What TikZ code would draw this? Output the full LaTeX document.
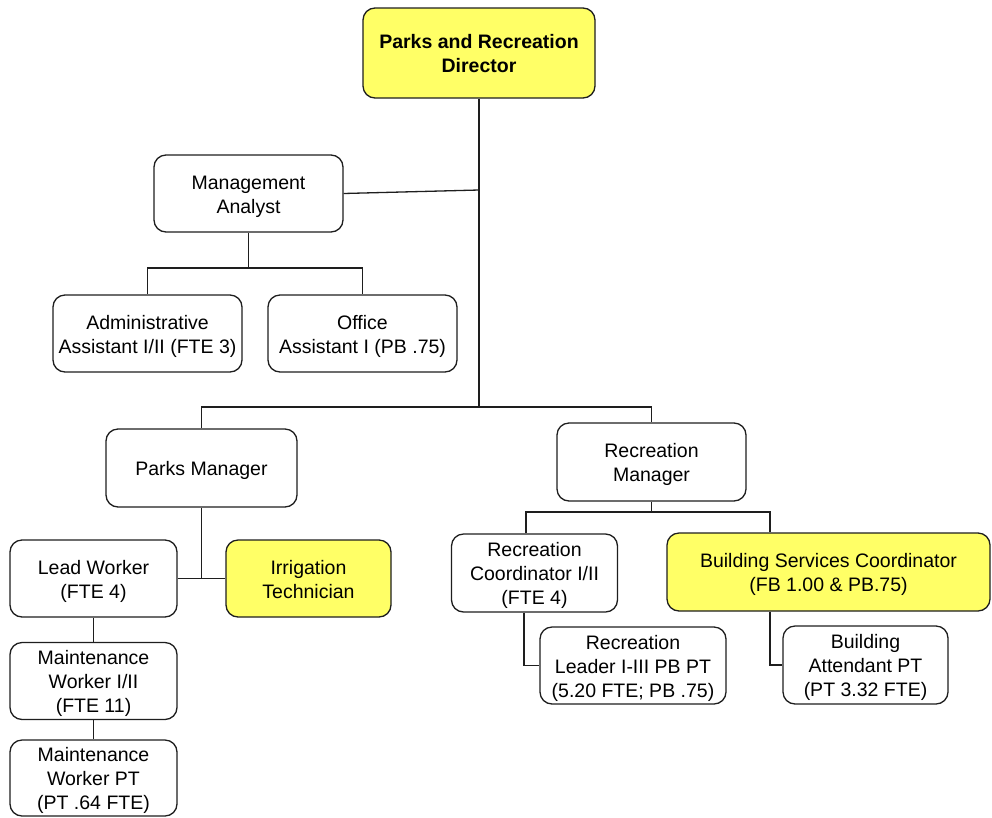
\documentclass[tikz,border=0pt]{standalone}
\usepackage{fontspec}
\setmainfont{Liberation Sans}
\definecolor{hilite}{RGB}{255,255,102}
\definecolor{edge}{RGB}{30,30,30}
% box caption: centred lines, set a little below the box centre
\newcommand\boxtext[1]{\raisebox{-3pt}[\height][\depth]{\begin{tabular}{@{}c@{}}#1\end{tabular}}}
\begin{document}
\begin{tikzpicture}[x=1pt,y=-1pt,
  box/.style={draw=edge, rounded corners=12pt, line width=1.3pt,
    inner sep=0pt, fill=white, font=\fontsize{19.5}{24}\selectfont},
  keybox/.style={box, fill=hilite},
  link/.style={draw=edge, line width=1.3pt}]
\useasboundingbox (0,0) rectangle (992,817);

% boxes
\node[keybox, minimum width=232, minimum height=90,
      font=\fontsize{19.5}{24}\selectfont\bfseries] (dir) at (479,53)
      {\boxtext{Parks and Recreation\\Director}};
\node[box, minimum width=189, minimum height=77] (ma) at (248.5,193.5) {\boxtext{Management\\Analyst}};
\node[box, minimum width=189, minimum height=77] (aa) at (147.5,333.5) {\boxtext{Administrative\\Assistant I/II (FTE 3)}};
\node[box, minimum width=189, minimum height=77] (oa) at (362.5,333.5) {\boxtext{Office\\Assistant I (PB .75)}};
\node[box, minimum width=191, minimum height=78] (pm) at (201.5,468) {\boxtext{Parks Manager}};
\node[box, minimum width=189, minimum height=78] (rm) at (651.5,462) {\boxtext{Recreation\\Manager}};
\node[box, minimum width=167, minimum height=77] (lw) at (93.5,578.5) {\boxtext{Lead Worker\\(FTE 4)}};
\node[keybox, minimum width=165, minimum height=77] (it) at (308.5,578.5) {\boxtext{Irrigation\\Technician}};
\node[box, minimum width=167, minimum height=77] (mw) at (93.5,681) {\boxtext{Maintenance\\Worker I/II\\(FTE 11)}};
\node[box, minimum width=167, minimum height=76] (mpt) at (93.5,778) {\boxtext{Maintenance\\Worker PT\\(PT .64 FTE)}};
\node[box, minimum width=166, minimum height=78] (rc) at (534.5,573) {\boxtext{Recreation\\Coordinator I/II\\(FTE 4)}};
\node[keybox, minimum width=323, minimum height=78] (bs) at (828.5,572) {\boxtext{Building Services Coordinator\\(FB 1.00 \& PB.75)}};
\node[box, minimum width=186, minimum height=77] (rl) at (633,665.5) {\boxtext{Recreation\\Leader I-III PB PT\\(5.20 FTE; PB .75)}};
\node[box, minimum width=165, minimum height=78] (ba) at (865.5,665) {\boxtext{Building\\Attendant PT\\(PT 3.32 FTE)}};

% junction points
\coordinate (j0) at (479,190);
\coordinate (j1) at (479,407);
\coordinate (b1) at (248.5,268);
\coordinate (j2) at (201.5,578);
\coordinate (b2) at (651.5,512);
\coordinate (x1) at (526,0);
\coordinate (x2) at (770,0);
\coordinate (x3) at (524,0);

% connectors
\draw[link] (dir.south) -- (j1);
\draw[link] (ma.east) -- (j0);
\draw[link] (ma.south) -- (b1);
\draw[link] (aa.north) |- (b1) -| (oa.north);
\draw[link] (pm.north) |- (j1) -| (rm.north);
\draw[link] (pm.south) -- (j2);
\draw[link] (lw.east) -- (it.west);
\draw[link] (lw.south) -- (mw.north);
\draw[link] (mw.south) -- (mpt.north);
\draw[link] (rm.south) -- (b2);
\draw[link] (x1 |- rc.north) |- (b2) -| (x2 |- bs.north);
\draw[link] (x3 |- rc.south) |- (rl.west);
\draw[link] (x2 |- bs.south) |- (ba.west);
\end{tikzpicture}
\end{document}
